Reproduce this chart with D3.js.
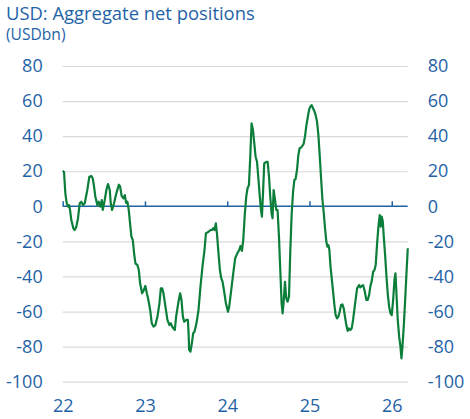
<!DOCTYPE html>
<html><head><meta charset="utf-8">
<script src="https://cdn.jsdelivr.net/npm/d3@7"></script>
<style>
html,body{margin:0;padding:0;background:#fff;}
svg{display:block;}
</style></head>
<body>
<svg id="chart" width="470" height="419"></svg>
<script>
const title = "USD: Aggregate net positions";
const subtitle = "(USDbn)";
const xTicks = [22, 23, 24, 25, 26];
const xTickLabels = ["22", "23", "24", "25", "26"];
const yTicks = [80, 60, 40, 20, 0, -20, -40, -60, -80, -100];
// time in decimal years (22 = Jan 2022)
const times = [22.000,22.016,22.032,22.049,22.065,22.077,22.089,22.105,22.129,22.146,22.166,22.186,22.207,22.226,22.247,22.268,22.299,22.324,22.348,22.365,22.381,22.397,22.421,22.438,22.458,22.475,22.487,22.511,22.531,22.551,22.572,22.584,22.600,22.624,22.652,22.682,22.697,22.716,22.738,22.755,22.771,22.786,22.803,22.819,22.835,22.852,22.868,22.884,22.908,22.925,22.941,22.965,22.984,23.005,23.023,23.042,23.063,23.083,23.103,23.127,23.152,23.176,23.193,23.209,23.225,23.249,23.273,23.298,23.315,23.331,23.346,23.363,23.379,23.404,23.428,23.444,23.461,23.477,23.501,23.522,23.531,23.537,23.553,23.570,23.586,23.602,23.626,23.651,23.675,23.699,23.724,23.741,23.757,23.772,23.797,23.814,23.830,23.845,23.862,23.875,23.894,23.911,23.927,23.943,23.960,23.984,24.009,24.024,24.049,24.073,24.097,24.122,24.146,24.162,24.179,24.195,24.213,24.231,24.247,24.264,24.280,24.296,24.313,24.329,24.345,24.362,24.377,24.393,24.410,24.422,24.435,24.450,24.475,24.491,24.508,24.523,24.539,24.551,24.564,24.581,24.597,24.612,24.629,24.645,24.661,24.673,24.685,24.702,24.718,24.734,24.751,24.767,24.783,24.800,24.816,24.831,24.849,24.864,24.880,24.897,24.913,24.929,24.946,24.962,24.978,24.995,25.010,25.026,25.043,25.059,25.075,25.092,25.108,25.124,25.141,25.156,25.172,25.189,25.205,25.217,25.230,25.242,25.254,25.270,25.287,25.303,25.318,25.335,25.351,25.367,25.384,25.400,25.416,25.433,25.449,25.464,25.481,25.497,25.513,25.530,25.555,25.579,25.603,25.619,25.635,25.652,25.668,25.692,25.708,25.725,25.741,25.757,25.774,25.790,25.805,25.822,25.838,25.854,25.866,25.878,25.891,25.903,25.920,25.936,25.951,25.968,25.984,26.000,26.017,26.033,26.045,26.057,26.073,26.090,26.106,26.118,26.130,26.146,26.163,26.179,26.195];
const netPositions = [20.3,19.6,7.4,1.7,-0.2,0.7,-2,-7.8,-12.5,-13.5,-11.6,-6.8,1.7,2.6,0.7,1.7,9.3,16.9,17.3,16,11.2,5.5,0.7,2.6,-0.2,3.6,-2.1,3.6,9.3,12.7,9.3,1.7,-2.1,1.7,7.4,12.3,11.5,6,4.6,6.4,2,2.6,-2.1,-9.7,-17.3,-19.2,-26.8,-32.5,-33.5,-36.3,-43.9,-49.6,-48,-45.4,-49.6,-53.4,-59.1,-66.7,-68.6,-67.7,-62.9,-55.3,-46.8,-46.8,-49.6,-57.2,-64.8,-67.7,-66.7,-68.6,-69.6,-70.5,-62.9,-55.3,-49.6,-53.4,-62.9,-65.8,-64.8,-64.8,-73,-81.9,-82.9,-78.1,-72.4,-71.5,-66.7,-59.1,-45.8,-34.4,-24.9,-15.4,-15,-14.5,-13.5,-13.5,-12.5,-13.5,-9.7,-15.4,-26.8,-36.3,-41,-43,-47.7,-55.3,-60.1,-57.2,-47.7,-38.2,-29.6,-26.8,-24.9,-22.6,-25.4,-19.2,-5,5.5,10.3,12.1,28.3,47.3,43.5,35.9,28.3,25.4,16.9,7.4,-2.1,-5.9,7.4,24.5,25.4,25.4,16.9,5.5,-4,-6.8,9.3,3.6,-2.1,-2.1,-17.3,-36.3,-55.3,-61,-55,-43,-52.5,-54.4,-51.5,-25,-5,8,15,15.5,21,29,33.1,33.5,34.5,35.6,40,46,50.5,55,56.8,57.7,55.9,54.3,52,48.2,40.7,29.2,16,4.6,-3.1,-12.5,-20.2,-23,-22.1,-24.9,-33.5,-41,-48.7,-56.3,-62,-63.9,-62.9,-60.1,-56.3,-55.9,-58.2,-63.4,-68,-71,-69.6,-70.5,-69.6,-64.8,-55.3,-46.8,-44.9,-46.2,-45.4,-45,-47.7,-53.4,-53.4,-50.6,-45.4,-42.5,-37.3,-36.3,-33.5,-21.1,-11.6,-5,-11.6,-5.9,-8.5,-17.3,-28.3,-40.1,-49.6,-57.2,-61,-62,-53.4,-42,-38.2,-49.6,-64.8,-74.3,-80,-86.7,-80,-68.6,-53.4,-38.2,-23.9];

const data = times.map((t, i) => ({t, v: netPositions[i]}));

const blue = "#1f63a6";
const green = "#0b7f3a";
const grid = "#d9d9d9";
const font = "'Open Sans', sans-serif";

const svg = d3.select("#chart");
const pLeft = 62.7, pRight = 407.7, pTop = 66, pBottom = 381.7;

const x = d3.scaleLinear().domain([22, 26.2]).range([pLeft, pRight + 0.5]);
const y = d3.scaleLinear().domain([-100, 80]).range([pBottom, pTop]);

// title
svg.append("text").attr("x", 6).attr("y", 19.8).attr("fill", blue)
  .style("font-family", font).style("font-size", "18.4px").text(title);
svg.append("text").attr("x", 6).attr("y", 40).attr("fill", blue)
  .style("font-family", font).style("font-size", "15.6px").text(subtitle);

// gridlines
const gridAxis = svg.append("g").attr("transform", `translate(${pLeft},0)`)
  .call(d3.axisRight(y).tickValues(yTicks.filter(d => d !== 0)).tickSize(pRight - pLeft).tickFormat(""));
gridAxis.select(".domain").remove();
gridAxis.selectAll("line").attr("stroke", grid).attr("stroke-width", 1.2);

const fmt = d => String(d);

// y labels left
const yl = svg.append("g").attr("transform", `translate(${pLeft - 20},0)`)
  .call(d3.axisLeft(y).tickValues(yTicks).tickSize(0).tickPadding(0).tickFormat(fmt));
yl.select(".domain").remove();
yl.selectAll("text").attr("fill", blue).style("font-family", font).style("font-size", "18px");

// y labels right
const yr = svg.append("g").attr("transform", `translate(${pRight + 20},0)`)
  .call(d3.axisRight(y).tickValues(yTicks).tickSize(0).tickPadding(0).tickFormat(fmt));
yr.select(".domain").remove();
yr.selectAll("text").attr("fill", blue).style("font-family", font).style("font-size", "18px");

// zero axis with ticks
const xa = svg.append("g").attr("transform", `translate(0,${y(0)})`)
  .call(d3.axisTop(x).tickValues(xTicks).tickSize(5).tickSizeOuter(0).tickFormat(""));
xa.select(".domain").attr("stroke", blue).attr("stroke-width", 1.5)
  .attr("d", `M${pLeft},0H${pRight}`);
xa.selectAll(".tick line").attr("stroke", blue).attr("stroke-width", 1.5);

// x labels at bottom
const xb = svg.append("g").attr("transform", `translate(0,${pBottom})`)
  .call(d3.axisBottom(x).tickValues(xTicks).tickSize(0).tickPadding(18).tickFormat((d, i) => xTickLabels[i]));
xb.select(".domain").remove();
xb.selectAll("text").attr("fill", blue).style("font-family", font).style("font-size", "18px");

// line
svg.append("path").datum(data)
  .attr("fill", "none").attr("stroke", green).attr("stroke-width", 2.2)
  .attr("stroke-linejoin", "round")
  .attr("d", d3.line().x(d => x(d.t)).y(d => y(d.v)));
</script>
</body></html>
